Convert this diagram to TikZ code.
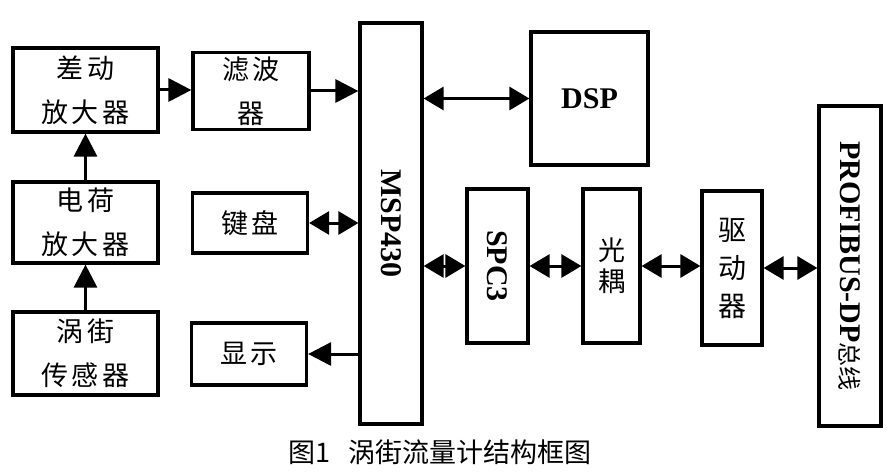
\documentclass[tikz,border=0pt]{standalone}
\usepackage{fontspec}
\usepackage{graphicx}
\setmainfont{Liberation Serif}
\newfontfamily\cjkls[LetterSpace=12]{Noto Sans CJK SC}
\newfontfamily\cjkplain{Noto Sans CJK SC}
\usetikzlibrary{arrows.meta}
\newcommand\zhbox{\cjkls\fontsize{27}{44}\selectfont}
\newcommand\latbox{\bfseries\fontsize{30}{34}\selectfont}
\begin{document}
\begin{tikzpicture}[x=1pt,y=-1pt,
  box/.style={draw, line width=3.2pt, inner sep=0pt, align=center},
  arr/.style={line width=3pt, -{Triangle[length=23pt,width=23pt]}},
  darr/.style={line width=3pt, {Triangle[length=20pt,width=23pt]}-{Triangle[length=20pt,width=23pt]}}
]
\useasboundingbox[fill=white] (0,0) rectangle (896,473);

\node[box, minimum width=145pt, minimum height=84pt, font=\zhbox] (cd) at (85.5,90) {差动\\放大器};
\node[box, minimum width=145pt, minimum height=81pt, font=\zhbox] (dh) at (85.5,222.5) {电荷\\放大器};
\node[box, minimum width=145pt, minimum height=83pt, font=\zhbox] (wj) at (85.5,353.5) {涡街\\传感器};
\node[box, minimum width=116pt, minimum height=77pt, font=\zhbox] (lb) at (251,91) {滤波\\器};
\node[box, minimum width=115pt, minimum height=60pt, font=\zhbox] (jp) at (250,223) {键盘};
\node[box, minimum width=115pt, minimum height=62pt, font=\zhbox] (xs) at (249,354) {显示};
\node[box, minimum width=62pt, minimum height=401pt, font=\latbox] (msp) at (391,223.5) {\rotatebox{-90}{MSP430}};
\node[box, minimum width=117pt, minimum height=133pt, font=\latbox] (dsp) at (589.5,98.5) {DSP};
\node[box, minimum width=61pt, minimum height=154pt, font=\latbox] (spc) at (497.5,266) {\rotatebox{-90}{SPC3}};
\node[box, minimum width=57pt, minimum height=154pt, font=\cjkls\fontsize{27}{31}\selectfont] (gy) at (611.5,266) {光\\耦};
\node[box, minimum width=60pt, minimum height=154pt, font=\cjkls\fontsize{28}{38}\selectfont] (qd) at (732,268) {驱\\动\\器};
\node[box, minimum width=62pt, minimum height=320pt, font=\latbox] (pb) at (850,266) {\rotatebox{-90}{PROFIBUS-DP{\cjkplain\mdseries\fontsize{24}{28}\selectfont 总线}}};

\draw[arr] (dh.north) -- (cd.south);
\draw[arr] (wj.north) -- (dh.south);
\draw[arr] (cd.east) -- (cd.east -| lb.west);
\draw[arr] (lb.east) -- (lb.east -| msp.west);
\draw[darr] (jp.east) -- (jp.east -| msp.west);
\draw[arr] (xs.east -| msp.west) -- (xs.east);
\draw[darr] (dsp.west -| msp.east) -- (dsp.west);
\draw[darr] (spc.west -| msp.east) -- (spc.west);
\draw[darr] (spc.east) -- (gy.west);
\draw[darr] (gy.east) -- (gy.east -| qd.west);
\draw[darr] (qd.east) -- (qd.east -| pb.west);

\node[font=\cjkplain\fontsize{27}{30}\selectfont, inner sep=0pt] (cap) at (440,452) {图1\hspace{0.7em}涡街流量计结构框图};
\end{tikzpicture}
\end{document}
